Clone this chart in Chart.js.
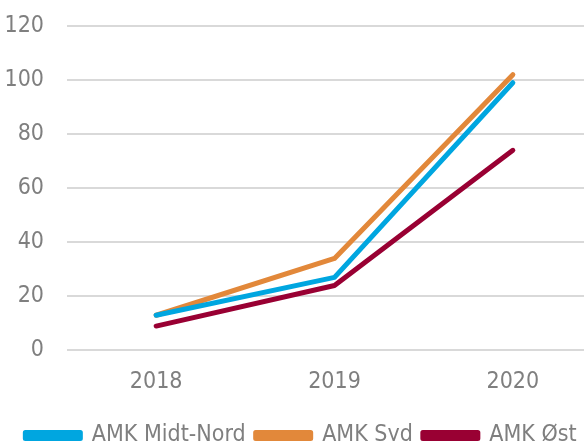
<!DOCTYPE html>
<html>
<head>
<meta charset="utf-8">
<script src="https://cdn.jsdelivr.net/npm/chart.js@4"></script>
<style>
    html, body { margin: 0; padding: 0; background: #fff; overflow: hidden; }
    #wrap { width: 620px; height: 457px; }
</style>
</head>
<body>
<div id="wrap"><canvas id="myChart"></canvas></div>
<script>
const years = ['2018', '2019', '2020'];
const midtNord = [13, 27, 99];
const syd = [13, 34, 102];
const ost = [9, 24, 74];

const textColor = '#7f7f7f';
const fontFamily = '"DejaVu Sans Condensed", "DejaVu Sans", sans-serif';

function line(label, data, color) {
    return {
        label: label,
        data: data,
        borderColor: color,
        backgroundColor: color,
        borderWidth: 5,
        borderCapStyle: 'round',
        borderJoinStyle: 'round',
        pointRadius: 0,
        tension: 0
    };
}

const ctx = document.getElementById('myChart').getContext('2d');
new Chart(ctx, {
    type: 'line',
    data: {
        labels: years,
        datasets: [
            line('AMK Midt-Nord', midtNord, '#00a6e0'),
            line('AMK Syd', syd, '#e2883a'),
            line('AMK Øst', ost, '#990033')
        ]
    },
    options: {
        responsive: true,
        maintainAspectRatio: false,
        animation: false,
        layout: { padding: { top: 0, right: 18, left: 0, bottom: 0 } },
        plugins: {
            legend: {
                position: 'bottom',
                labels: {
                    color: textColor,
                    font: { family: fontFamily, size: 23 },
                    boxWidth: 55,
                    boxHeight: 6,
                    padding: 10
                }
            },
            tooltip: { enabled: false }
        },
        scales: {
            y: {
                min: 0,
                max: 120,
                afterFit: (s) => {
                    s.width = 67;
                    s.paddingTop = 26;
                },
                ticks: {
                    stepSize: 20,
                    color: textColor,
                    font: { family: fontFamily, size: 23 },
                    padding: 23
                },
                grid: { color: '#d9d9d9', lineWidth: 2, drawTicks: false },
                border: { display: false }
            },
            x: {
                offset: true,
                ticks: {
                    color: textColor,
                    font: { family: fontFamily, size: 23 },
                    padding: 18
                },
                grid: { display: false, drawTicks: false },
                border: { display: false }
            }
        }
    }
});
</script>
</body>
</html>
